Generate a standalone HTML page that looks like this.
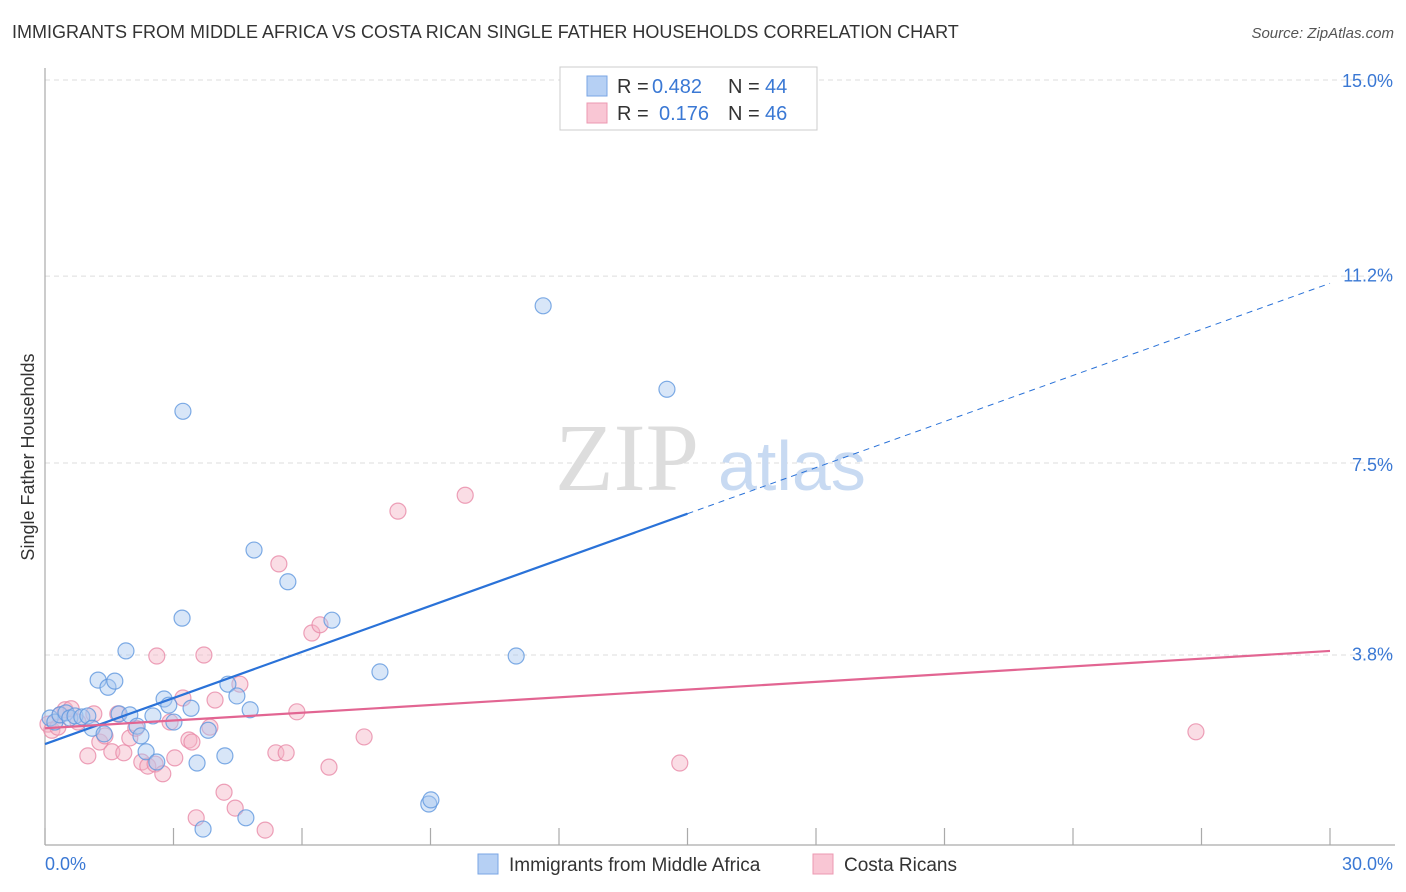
<!DOCTYPE html>
<html><head><meta charset="utf-8"><style>
body{margin:0;background:#fff;font-family:"Liberation Sans",sans-serif;}
#wrap{position:relative;width:1406px;height:892px;overflow:hidden;}
.t{position:absolute;white-space:nowrap;}
</style></head><body>
<div id="wrap">
<div class="t" style="left:12px;top:22px;font-size:18px;color:#333;">IMMIGRANTS FROM MIDDLE AFRICA VS COSTA RICAN SINGLE FATHER HOUSEHOLDS CORRELATION CHART</div>
<div class="t" style="right:12px;top:25px;font-size:15px;color:#555;font-style:italic;">Source: ZipAtlas.com</div>
<svg id="chart" width="1406" height="892" style="position:absolute;left:0;top:0"></svg>
</div>
<script>
const blueX=[0.12,0.23,0.35,0.49,0.58,0.70,0.86,1.00,1.10,1.24,1.38,1.47,1.63,1.73,1.89,1.98,2.15,2.24,2.36,2.52,2.61,2.78,2.89,3.01,3.20,3.22,3.41,3.55,3.69,3.81,4.20,4.27,4.48,4.69,4.79,4.88,5.67,6.70,7.82,8.96,9.01,11.00,11.63,14.52];
const blueY=[2.52,2.44,2.58,2.62,2.52,2.56,2.54,2.56,2.32,3.26,2.21,3.12,3.24,2.60,3.83,2.58,2.36,2.17,1.86,2.56,1.66,2.89,2.77,2.44,4.47,8.51,2.71,1.64,0.35,2.28,1.78,3.18,2.95,0.57,2.68,5.80,5.18,4.43,3.42,0.84,0.92,3.73,10.57,8.94];
const pinkX=[0.07,0.16,0.30,0.47,0.61,0.77,1.00,1.14,1.28,1.40,1.56,1.70,1.84,1.98,2.12,2.26,2.40,2.57,2.61,2.75,2.92,3.03,3.22,3.36,3.43,3.53,3.71,3.85,3.97,4.18,4.44,4.55,5.14,5.39,5.46,5.63,5.88,6.23,6.42,6.63,7.45,8.24,9.81,14.82,26.87,0.35];
const pinkY=[2.40,2.28,2.34,2.68,2.70,2.44,1.78,2.60,2.05,2.17,1.86,2.60,1.84,2.13,2.32,1.66,1.58,1.62,3.73,1.43,2.44,1.74,2.91,2.09,2.05,0.57,3.75,2.34,2.87,1.07,0.76,3.18,0.33,1.84,5.53,1.84,2.64,4.18,4.34,1.56,2.15,6.56,6.87,1.64,2.25,2.58];
const yTicks=[3.8,7.5,11.2,15.0];
const yTickLabels=["3.8%","7.5%","11.2%","15.0%"];
const xTickLabels=["0.0%","30.0%"];
const blueTrend=[2.01,0.3];   // intercept, slope
const pinkTrend=[2.32,0.0503];
const NS="http://www.w3.org/2000/svg";
const svg=document.getElementById('chart');
const X0=45,X1=1330,Y0=847,YPER=192/3.75;
const sx=v=>X0+(v/30)*(X1-X0);
const sy=v=>Y0-v*YPER;
function mk(tag,attrs,parent){const e=document.createElementNS(NS,tag);for(const k in attrs)e.setAttribute(k,attrs[k]);(parent||svg).appendChild(e);return e;}
// gridlines
yTicks.forEach((t,i)=>{
 const g=mk('line',{x1:X0,x2:1395,y1:sy(t===15?15:t*1.0)-(t===3.8?-2.6:t===7.5?0:t===11.2?-2.6:-1),y2:sy(t===15?15:t)-(t===3.8?-2.6:t===7.5?0:t===11.2?-2.6:-1),stroke:'#ddd','stroke-dasharray':'5,4'});
 
 
 const tx=mk('text',{x:1393,y:sy(t)+8,'text-anchor':'end','font-size':18,fill:'#3a78d4','font-family':'Liberation Sans, sans-serif'});
 tx.textContent=yTickLabels[i];
 
 
});
// axes
const ya=mk('line',{x1:X0,x2:X0,y1:68,y2:845,stroke:'#aaa','stroke-width':1.2});


const xa=mk('line',{x1:X0,x2:1395,y1:845,y2:845,stroke:'#aaa','stroke-width':1.2});


for(let i=0;i<=10;i++){
 const t=mk('line',{x1:sx(i*3),x2:sx(i*3),y1:828,y2:845,stroke:'#aaa','stroke-width':1.2});
 
 
}
[[0,'start',45],[1,'end',1393]].forEach(([i,a,x])=>{
 const tx=mk('text',{x:x,y:870,'text-anchor':a,'font-size':18,fill:'#3a78d4','font-family':'Liberation Sans, sans-serif'});
 tx.textContent=xTickLabels[i];
 
 
});
// watermark
const wm=mk('text',{x:555,y:490,'font-size':96,fill:'#ddd','font-family':'Liberation Serif, serif'});
wm.textContent='ZIP';


const wm2=mk('text',{x:718,y:490,'font-size':70,fill:'#c8daf2','font-family':'Liberation Sans, sans-serif'});
wm2.textContent='atlas';


// y title
const yt=mk('text',{x:34,y:457,'text-anchor':'middle','font-size':18,fill:'#333',transform:'rotate(-90 34 457)','font-family':'Liberation Sans, sans-serif'});
yt.textContent='Single Father Households';


// points
function pts(xs,ys,fill,stroke,name){
 xs.forEach((v,i)=>{
  const c=mk('circle',{cx:sx(v),cy:sy(ys[i]),r:8,fill:fill,'fill-opacity':0.45,stroke:stroke,'stroke-width':1.2,'stroke-opacity':0.8});
  
  
 });
}
pts(pinkX,pinkY,'#f4b3c6','#e88aa8','pink-point');
pts(blueX,blueY,'#a8c8f0','#5f97df','blue-point');
// trends
const bl=mk('line',{x1:sx(0),y1:sy(blueTrend[0]),x2:sx(15),y2:sy(blueTrend[0]+blueTrend[1]*15),stroke:'#2a72d8','stroke-width':2.2});


const bd=mk('line',{x1:sx(15),y1:sy(blueTrend[0]+blueTrend[1]*15),x2:sx(30),y2:sy(blueTrend[0]+blueTrend[1]*30),stroke:'#2a72d8','stroke-width':1,'stroke-dasharray':'6,5'});


const pl=mk('line',{x1:sx(0),y1:sy(pinkTrend[0]),x2:sx(30),y2:sy(pinkTrend[0]+pinkTrend[1]*30),stroke:'#e26592','stroke-width':2.2});


// top legend
const lg=mk('rect',{x:560,y:67,width:257,height:63,fill:'#fff',stroke:'#ccc'});


[[0,'#b6d0f4','#7aa6e4','0.482','44'],[1,'#f9c6d4','#ec98b2','0.176','46']].forEach(([i,f,s,r,n])=>{
 const y=86+i*27;
 const sw=mk('rect',{x:587,y:y-10,width:20,height:20,fill:f,stroke:s});
 
 
 const t=mk('text',{x:617,y:y+7,'font-size':20,fill:'#333','font-family':'Liberation Sans, sans-serif'});
 t.innerHTML='R = <tspan fill="#3a78d4" x="'+(i?659:652)+'">'+r+'</tspan><tspan x="728" fill="#333">N = </tspan><tspan fill="#3a78d4" x="765">'+n+'</tspan>';
 
 
});
// bottom legend
[[478,'#b6d0f4','#7aa6e4','Immigrants from Middle Africa'],[813,'#f9c6d4','#ec98b2','Costa Ricans']].forEach(([x,f,s,l])=>{
 const sw=mk('rect',{x:x,y:854,width:20,height:20,fill:f,stroke:s});
 
 
 const t=mk('text',{x:x+31,y:871,'font-size':19,fill:'#333','font-family':'Liberation Sans, sans-serif'});
 t.textContent=l;
 
 
});
</script>
</body></html>
